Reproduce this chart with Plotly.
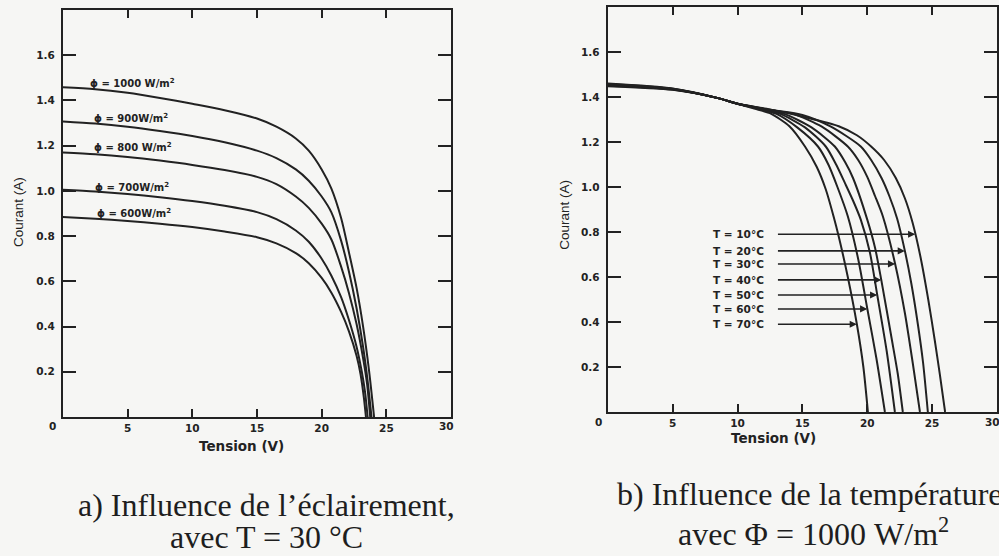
import plotly.graph_objects as go

# ---------------- data: (a) influence of irradiance, T = 30 °C ----------------
irr_labels = ["ϕ = 1000 W/m<sup>2</sup>", "ϕ = 900W/m<sup>2</sup>", "ϕ = 800 W/m<sup>2</sup>",
              "ϕ = 700W/m<sup>2</sup>", "ϕ = 600W/m<sup>2</sup>"]
v_1000 = [0, 2.5, 5, 7.5, 10, 12.5, 15, 16.5, 18, 19, 20, 20.75, 21.5, 22.1, 22.7, 23.2, 23.65, 24.05]
i_1000 = [1.458, 1.450, 1.434, 1.411, 1.385, 1.357, 1.320, 1.284, 1.232, 1.178, 1.095, 1.01,
          0.88, 0.73, 0.57, 0.40, 0.21, 0.0]
v_900 = [0, 2.5, 5, 7.5, 10, 12.5, 15, 16.5, 18, 19, 20, 20.75, 21.5, 22.1, 22.7, 23.2, 23.55, 23.85]
i_900 = [1.307, 1.298, 1.284, 1.265, 1.243, 1.215, 1.178, 1.145, 1.095, 1.045, 0.975, 0.905,
         0.78, 0.645, 0.48, 0.31, 0.16, 0.0]
v_800 = [0, 2.5, 5, 7.5, 10, 12.5, 15, 16.5, 18, 19, 20, 20.75, 21.5, 22.1, 22.7, 23.2, 23.5, 23.75]
i_800 = [1.170, 1.162, 1.150, 1.134, 1.115, 1.092, 1.062, 1.03, 0.975, 0.925, 0.855, 0.785,
         0.665, 0.55, 0.41, 0.26, 0.15, 0.0]
v_700 = [0, 2.5, 5, 7.5, 10, 12.5, 15, 16.5, 18, 19, 20, 20.75, 21.5, 22.1, 22.7, 23.1, 23.35, 23.55]
i_700 = [1.005, 0.997, 0.986, 0.972, 0.955, 0.934, 0.906, 0.875, 0.825, 0.775, 0.70, 0.625,
         0.53, 0.43, 0.31, 0.20, 0.11, 0.0]
v_600 = [0, 2.5, 5, 7.5, 10, 12.5, 15, 16.5, 18, 19, 20, 20.75, 21.5, 22.1, 22.7, 23.0, 23.25, 23.42]
i_600 = [0.885, 0.877, 0.867, 0.855, 0.840, 0.820, 0.795, 0.768, 0.725, 0.680, 0.615, 0.55,
         0.465, 0.38, 0.27, 0.19, 0.09, 0.0]
irr_v = [v_1000, v_900, v_800, v_700, v_600]
irr_i = [i_1000, i_900, i_800, i_700, i_600]

# ---------------- data: (b) influence of temperature, Φ = 1000 W/m² ----------------
temp_labels = ["T = 10°C", "T = 20°C", "T = 30°C", "T = 40°C", "T = 50°C", "T = 60°C", "T = 70°C"]
v_t10 = [0, 5, 8.5, 10, 12.5, 15.2, 17.8, 19.2, 20.3, 21.3, 22.2, 22.9, 23.5, 24.1, 24.7, 25.2, 25.6, 26.0]
i_t10 = [1.448, 1.432, 1.395, 1.37, 1.345, 1.31, 1.27, 1.23, 1.18, 1.12, 1.04, 0.95, 0.84, 0.69,
         0.50, 0.32, 0.165, 0.0]
v_t20 = [0, 5, 8.5, 10, 12.5, 15.0, 17.2, 19.5, 20.3, 21.1, 21.7, 22.3, 22.9, 23.4, 23.9, 24.3, 24.67]
i_t20 = [1.45, 1.433, 1.395, 1.37, 1.343, 1.32, 1.268, 1.18, 1.12, 1.04, 0.96, 0.86, 0.716, 0.57,
         0.39, 0.22, 0.0]
v_t30 = [0, 5, 8.5, 10, 12.5, 14.3, 16.5, 18.5, 19.3, 20.0, 20.6, 21.2, 22.15, 22.9, 23.5, 24.06]
i_t30 = [1.452, 1.434, 1.395, 1.37, 1.342, 1.325, 1.268, 1.18, 1.12, 1.045, 0.96, 0.87, 0.658,
         0.44, 0.22, 0.0]
v_t40 = [0, 5, 8.5, 10, 12.0, 13.6, 15.7, 17.5, 18.3, 18.9, 20.0, 20.6, 21.08, 21.9, 22.35, 22.74]
i_t40 = [1.454, 1.435, 1.395, 1.37, 1.345, 1.325, 1.265, 1.18, 1.11, 1.04, 0.855, 0.73, 0.587,
         0.32, 0.17, 0.0]
v_t50 = [0, 5, 8.5, 10, 12.0, 13.3, 15.2, 16.8, 17.6, 18.3, 18.9, 19.5, 20.2, 20.77, 21.5, 22.13]
i_t50 = [1.456, 1.436, 1.395, 1.37, 1.345, 1.325, 1.265, 1.18, 1.1, 1.015, 0.94, 0.855, 0.71,
         0.52, 0.27, 0.0]
v_t60 = [0, 5, 8.5, 10, 11.8, 13.0, 14.6, 16.2, 17.0, 17.7, 18.5, 19.3, 20.0, 20.7, 21.36]
i_t60 = [1.458, 1.437, 1.395, 1.37, 1.345, 1.325, 1.265, 1.18, 1.10, 1.0, 0.87, 0.68, 0.46, 0.24, 0.0]
v_t70 = [0, 5, 8.5, 10, 11.5, 12.6, 14.0, 15.2, 16.1, 16.8, 17.4, 17.8, 18.5, 19.2, 19.7, 20.05]
i_t70 = [1.46, 1.438, 1.395, 1.37, 1.345, 1.325, 1.27, 1.18, 1.09, 0.99, 0.87, 0.78, 0.6, 0.39,
         0.2, 0.0]
temp_v = [v_t10, v_t20, v_t30, v_t40, v_t50, v_t60, v_t70]
temp_i = [i_t10, i_t20, i_t30, i_t40, i_t50, i_t60, i_t70]
# arrow tips (V, I) on each temperature curve
arrow_v = [23.7, 22.9, 22.15, 21.08, 20.77, 20.0, 19.2]
arrow_i = [0.79, 0.716, 0.658, 0.587, 0.52, 0.458, 0.39]

x_ticks = [5, 10, 15, 20, 25]
y_ticks = [0.2, 0.4, 0.6, 0.8, 1.0, 1.2, 1.4, 1.6]
y_ticktext = ["0.2", "0.4", "0.6", "0.8", "1.0", "1.2", "1.4", "1.6"]

caption_a = ["a) Influence de l’éclairement,", "avec T = 30 °C"]
caption_b = ["b) Influence de la température,", "avec Φ = 1000 W/m<sup>2</sup>"]

# ---------------- figure ----------------
W, H = 999, 556
INK = "#222222"
BG = "#f6f6f4"
TICKFONT = dict(family="DejaVu Sans", size=10.5, color=INK, weight="bold")

fig = go.Figure()
for vs, is_ in zip(irr_v, irr_i):
    fig.add_trace(go.Scatter(x=vs, y=is_, mode="lines", xaxis="x", yaxis="y",
                             line=dict(color=INK, width=2, shape="spline", smoothing=0.8),
                             showlegend=False, hoverinfo="skip"))
for vs, is_ in zip(temp_v, temp_i):
    fig.add_trace(go.Scatter(x=vs, y=is_, mode="lines", xaxis="x2", yaxis="y2",
                             line=dict(color=INK, width=2, shape="spline", smoothing=0.7),
                             showlegend=False, hoverinfo="skip"))

def px_x(p):
    return p / W

def px_y(p):
    return 1 - p / H

def xax(domain):
    return dict(domain=domain, range=[0, 30], showgrid=False, zeroline=False,
                showline=True, linecolor=INK, linewidth=2, mirror="ticks",
                ticks="inside", ticklen=8, tickwidth=2, tickcolor=INK,
                tickvals=x_ticks, ticktext=[str(t) for t in x_ticks],
                tickfont=TICKFONT, fixedrange=True)

def yax(domain, anchor):
    return dict(domain=domain, range=[0, 1.8], showgrid=False, zeroline=False,
                showline=True, linecolor=INK, linewidth=2, mirror="ticks",
                ticks="inside", ticklen=13, tickwidth=2, tickcolor=INK,
                tickvals=y_ticks, ticktext=y_ticktext, tickfont=TICKFONT,
                ticklabelstandoff=4, anchor=anchor, fixedrange=True)

fig.update_layout(
    width=W, height=H, autosize=False,
    margin=dict(l=0, r=0, t=0, b=0),
    paper_bgcolor=BG, plot_bgcolor=BG,
    xaxis=dict(**xax([px_x(63), px_x(452)]), anchor="y"),
    yaxis=yax([px_y(417), px_y(10)], "x"),
    xaxis2=dict(**xax([px_x(609), 1.0]), anchor="y2"),
    yaxis2=yax([px_y(412), px_y(7)], "x2"),
)

ann = []
lab_font = dict(family="DejaVu Sans", size=10, color=INK, weight="bold")
# irradiance labels (paper pixel positions)
irr_pos = [(88, 83), (92, 118), (92, 147), (93, 187), (95, 213)]
for txt, (px, py) in zip(irr_labels, irr_pos):
    ann.append(dict(text=txt, x=px_x(px), y=px_y(py), xref="paper", yref="paper",
                    xanchor="left", yanchor="middle", showarrow=False, font=lab_font))
# temperature labels + arrows
for txt, tv, ti in zip(temp_labels, arrow_v, arrow_i):
    ann.append(dict(text=txt, x=12.2, y=ti, xref="x2", yref="y2",
                    xanchor="right", yanchor="middle", showarrow=False,
                    font=dict(family="DejaVu Sans", size=10.5, color=INK, weight="bold")))
    ann.append(dict(text="", x=tv, y=ti, xref="x2", yref="y2",
                    ax=13.0, ay=ti, axref="x2", ayref="y2", showarrow=True,
                    arrowhead=2, arrowsize=0.9, arrowwidth=1.6, arrowcolor=INK))
# corner zeros and right "30" labels
for (px, py, t) in [(53, 426, "0"), (447, 426, "30"), (600, 422, "0"), (994, 422, "30")]:
    ann.append(dict(text=t, x=px_x(px), y=px_y(py), xref="paper", yref="paper",
                    xanchor="center", yanchor="middle", showarrow=False, font=TICKFONT))
# axis titles
for (px, py) in [(242, 446), (775, 438)]:
    ann.append(dict(text="Tension (V)", x=px_x(px), y=px_y(py), xref="paper", yref="paper",
                    xanchor="center", yanchor="middle", showarrow=False,
                    font=dict(family="DejaVu Sans", size=13.5, color=INK, weight="bold")))
for (px, py) in [(18, 212), (565, 215)]:
    ann.append(dict(text="Courant (A)", x=px_x(px), y=px_y(py), xref="paper", yref="paper",
                    xanchor="center", yanchor="middle", showarrow=False, textangle=-90,
                    font=dict(family="Liberation Sans", size=13.5, color=INK)))
# captions
cap_font = dict(family="Liberation Serif", size=32, color="#1e1e1e")
for (txt, px, py) in [(caption_a[0], 267, 505), (caption_a[1], 267, 537),
                      (caption_b[0], 816, 494), (caption_b[1], 815, 532)]:
    ann.append(dict(text=txt, x=px_x(px), y=px_y(py), xref="paper", yref="paper",
                    xanchor="center", yanchor="middle", showarrow=False, font=cap_font))

fig.update_layout(annotations=ann)
fig.write_html("out.html")
